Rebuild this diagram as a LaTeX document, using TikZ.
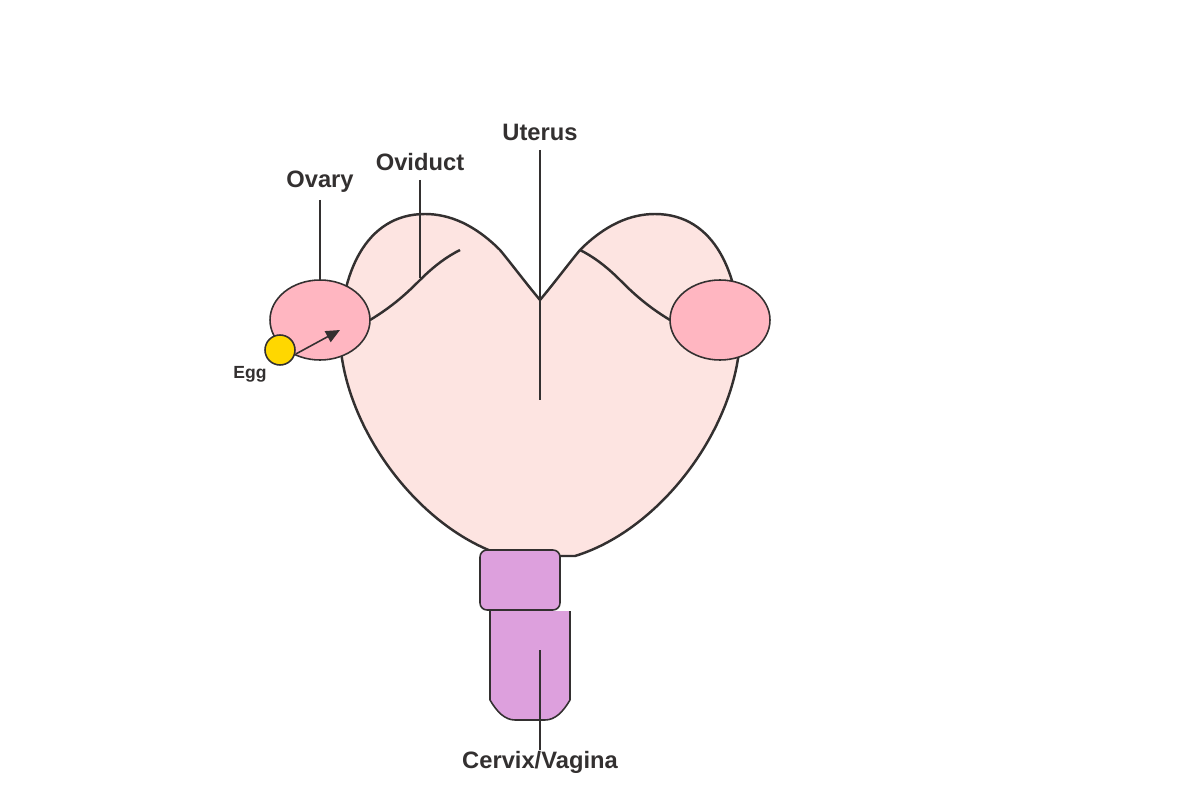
\documentclass[tikz,border=0pt]{standalone}
\usepackage{fontspec}
\setmainfont{Liberation Sans}
\usetikzlibrary{arrows.meta}
\usetikzlibrary{positioning}
\usetikzlibrary{shapes.geometric}
\definecolor{uterusfill}{HTML}{FDE4E1}
\definecolor{ovaryfill}{HTML}{FFB6C1}
\definecolor{eggfill}{HTML}{FFD700}
\definecolor{cervixfill}{HTML}{DDA0DD}
\definecolor{ink}{HTML}{333030}
\begin{document}
\begin{tikzpicture}[x=0.02cm, y=-0.02cm, line join=round]
\tikzset{organ/.style={draw=ink, line width=1.4pt},
  part/.style={draw=ink, line width=0.9pt},
  pointer/.style={draw=ink, line width=0.85pt},
  label/.style={text=ink, font=\bfseries\fontsize{13.5}{15}\selectfont, inner sep=1pt},
  small label/.style={text=ink, font=\bfseries\fontsize{10}{12}\selectfont, inner sep=1pt}}
\useasboundingbox (0,0) rectangle (1200,800);

% uterus body
\path[organ, fill=uterusfill] (540,300) .. controls (525,282) and (510,262) .. (500,250)
  .. controls (475,225) and (450,214) .. (425,214)
  .. controls (365,214) and (340,275) .. (340,340)
  .. controls (345,430) and (420,530) .. (505,556)
  -- (575,556)
  .. controls (660,530) and (735,430) .. (740,340)
  .. controls (740,275) and (715,214) .. (655,214)
  .. controls (630,214) and (605,225) .. (580,250)
  .. controls (570,262) and (555,282) .. (540,300) -- cycle;

% oviducts
\draw[organ] (370,320) .. controls (395,305) and (410,290) .. (420,280) .. controls (435,265) and (448,256) .. (460,250);
\draw[organ] (670,320) .. controls (645,305) and (630,290) .. (620,280) .. controls (605,265) and (592,256) .. (580,250);

% ovaries and egg
\node[part, fill=ovaryfill, ellipse, minimum width=2cm, minimum height=1.6cm, inner sep=0pt] (ovaryL) at (320,320) {};
\node[part, fill=ovaryfill, ellipse, minimum width=2cm, minimum height=1.6cm, inner sep=0pt] (ovaryR) at (720,320) {};
\node[part, fill=eggfill, circle, minimum size=0.6cm, inner sep=0pt] (egg) at (280,350) {};
\coordinate (eggTip) at (340,330);
\draw[part, -{Triangle[length=8pt, width=7pt]}] (egg.east) ++(0,4) -- (eggTip);

% cervix and vagina
\node[part, fill=cervixfill, rounded corners=4pt, minimum width=1.6cm, minimum height=1.2cm, inner sep=0pt] (cervix) at (520,580) {};
\fill[cervixfill] (490,611) -- (490,700) .. controls (497,712) and (505,720) .. (515,720) -- (545,720) .. controls (555,720) and (563,712) .. (570,700) -- (570,611) -- cycle;
\draw[part] (490,611) -- (490,700) .. controls (497,712) and (505,720) .. (515,720) -- (545,720) .. controls (555,720) and (563,712) .. (570,700) -- (570,611);

% labels
\node[label] (ovary) at (320,182) {Ovary};
\node[label] (oviduct) at (420,162) {Oviduct};
\node[label] (uterus) at (540,132) {Uterus};
\node[label] (vagina) at (540,762) {Cervix/Vagina};
\node[small label] (eggLabel) at (250,374) {Egg};
\coordinate (ovaryEnd) at (320,280);
\coordinate (oviductEnd) at (420,278);
\coordinate (uterusEnd) at (540,400);
\coordinate (vaginaEnd) at (540,650);
\draw[pointer] (320,200) -- (ovaryEnd);
\draw[pointer] (420,180) -- (oviductEnd);
\draw[pointer] (540,150) -- (uterusEnd);
\draw[pointer] (540,750) -- (vaginaEnd);

\end{tikzpicture}
\end{document}
